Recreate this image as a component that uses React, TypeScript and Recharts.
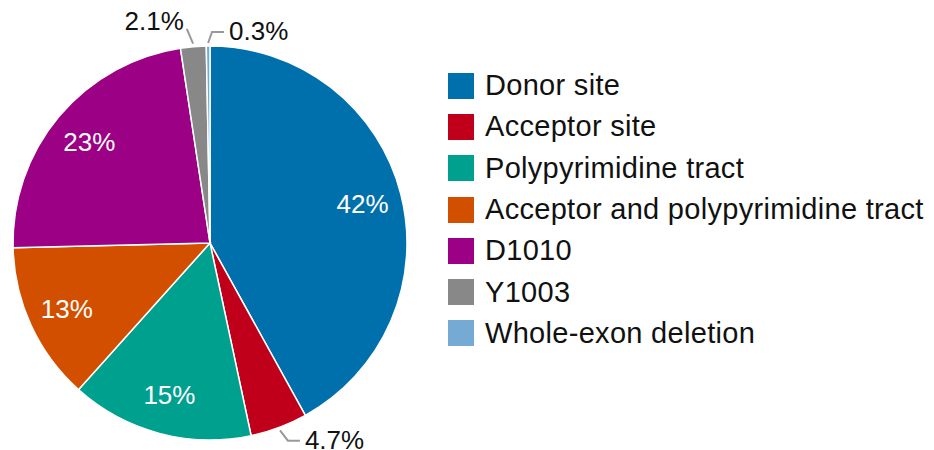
import { PieChart, Pie, Cell, Legend } from 'recharts'

const categories = [
  'Donor site',
  'Acceptor site',
  'Polypyrimidine tract',
  'Acceptor and polypyrimidine tract',
  'D1010',
  'Y1003',
  'Whole-exon deletion',
]
const shares = [42, 4.7, 15, 13, 23, 2.1, 0.3]
const colors = ['#0070ac', '#c0001b', '#00a08f', '#d24f00', '#9b0085', '#888888', '#75aad5']

const data = categories.map((name, i) => ({ name, value: shares[i] }))

const FONT = '"Liberation Sans", Arial, Helvetica, sans-serif'
const RAD = Math.PI / 180

// small slices get an outside label with a leader line
const renderLabel = (props: any) => {
  const { cx, cy, midAngle, outerRadius, value, index } = props
  const text = `${value}%`
  const cos = Math.cos(-midAngle * RAD)
  const sin = Math.sin(-midAngle * RAD)
  if (value >= 5) {
    const r = outerRadius * 0.8
    return (
      <text x={cx + r * cos} y={cy + r * sin} fill="#fff" fontSize={26} fontFamily={FONT}
        textAnchor="middle" dominantBaseline="central">
        {text}
      </text>
    )
  }
  const side = index === data.length - 1 ? 1 : cos >= 0 ? 1 : -1
  const sx = cx + (outerRadius + 3) * cos
  const sy = cy + (outerRadius + 3) * sin
  if (side < 0) {
    // left side: steeper leader, label sits above its end
    const mx = cx + (outerRadius + 18) * cos - 5
    const my = cy + (outerRadius + 18) * sin
    return (
      <g>
        <polyline points={`${sx},${sy} ${mx},${my}`} fill="none" stroke="#999" strokeWidth={2} />
        <text x={mx - 3} y={my - 8} fill="#111" fontSize={26} fontFamily={FONT}
          textAnchor="end" dominantBaseline="central">
          {text}
        </text>
      </g>
    )
  }
  const mx = cx + (outerRadius + 14) * cos + 4
  const my = cy + (outerRadius + 14) * sin
  const ex = mx + 12
  return (
    <g>
      <polyline points={`${sx},${sy} ${mx},${my} ${ex},${my}`} fill="none" stroke="#999" strokeWidth={2} />
      <text x={ex + 5} y={my - 1} fill="#111" fontSize={26} fontFamily={FONT}
        textAnchor="start" dominantBaseline="central">
        {text}
      </text>
    </g>
  )
}

const renderLegend = (props: any) => {
  const { payload } = props
  return (
    <div style={{ fontFamily: FONT }}>
      {payload.map((p: any, i: number) => (
        <div key={i} style={{ display: 'flex', alignItems: 'center', height: 41.3 }}>
          <span style={{ width: 26, height: 26, background: p.color, display: 'inline-block', marginRight: 11, flexShrink: 0 }} />
          <span style={{ fontSize: 29, color: '#111', whiteSpace: 'nowrap', letterSpacing: 0.3 }}>{p.value}</span>
        </div>
      ))}
    </div>
  )
}

export default function App() {
  return (
    <div style={{ position: 'absolute', left: 0, top: 0, background: '#fff' }}>
      <PieChart width={934} height={450} margin={{ top: 0, right: 0, bottom: 0, left: 0 }}>
        <Pie
          data={data}
          dataKey="value"
          nameKey="name"
          cx={210}
          cy={243}
          outerRadius={197}
          startAngle={90}
          endAngle={-270}
          stroke="#fff"
          strokeWidth={1.5}
          label={renderLabel}
          labelLine={false}
          isAnimationActive={false}
        >
          {data.map((d, i) => (
            <Cell key={d.name} fill={colors[i]} />
          ))}
        </Pie>
        <Legend
          layout="vertical"
          itemSorter={null}
          content={renderLegend}
          wrapperStyle={{ left: 448, top: 65, width: 486 }}
        />
      </PieChart>
    </div>
  )
}
